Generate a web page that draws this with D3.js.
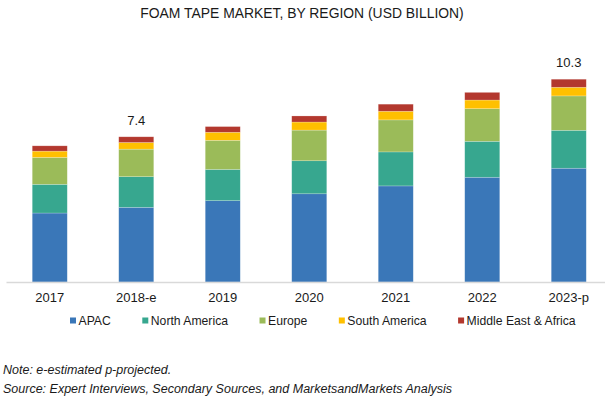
<!DOCTYPE html>
<html>
<head>
<meta charset="utf-8">
<script src="https://cdn.jsdelivr.net/npm/d3@7"></script>
<style>
  body { margin: 0; background: #fff; }
  svg { display: block; font-family: "Liberation Sans", Arial, sans-serif; }
</style>
</head>
<body>
<svg id="chart" width="611" height="399"></svg>
<script>
var years = ["2017", "2018-e", "2019", "2020", "2021", "2022", "2023-p"];
var regions = ["APAC", "North America", "Europe", "South America", "Middle East & Africa"];
var regionColors = ["#3a77b8", "#37a78f", "#9bbb59", "#ffc000", "#b3382e"];

// values in USD billion
var apac = [3.51, 3.80, 4.14, 4.49, 4.89, 5.33, 5.79];
var northAmerica = [1.46, 1.56, 1.59, 1.68, 1.73, 1.83, 1.93];
var europe = [1.37, 1.40, 1.48, 1.56, 1.63, 1.66, 1.75];
var southAmerica = [0.32, 0.34, 0.41, 0.41, 0.44, 0.44, 0.44];
var mea = [0.27, 0.29, 0.29, 0.31, 0.36, 0.39, 0.41];
var totalLabels = ["", "7.4", "", "", "", "", "10.3"];

var svg = d3.select("#chart");
var width = 611, height = 399;

// build table for the stack
var rows = years.map(function (y, i) {
    return {
        year: y,
        "APAC": apac[i],
        "North America": northAmerica[i],
        "Europe": europe[i],
        "South America": southAmerica[i],
        "Middle East & Africa": mea[i],
        label: totalLabels[i]
    };
});

var series = d3.stack().keys(regions)(rows);

var xScale = d3.scaleBand().domain(years).range([6.5, 612])
    .paddingInner(0.595).paddingOuter(0.2975);
var yScale = d3.scaleLinear().domain([0, 12]).range([282, 282 - 12 * 19.65]);
var color = d3.scaleOrdinal().domain(regions).range(regionColors);

// title
svg.append("text")
    .attr("x", 302)
    .attr("y", 17.5)
    .attr("text-anchor", "middle")
    .style("font-size", "13.9px")
    .style("fill", "#1a1a1a")
    .text("FOAM TAPE MARKET, BY REGION (USD BILLION)");

// bars
svg.append("g").selectAll("g")
    .data(series)
    .enter()
    .append("g")
    .attr("fill", function (d) { return color(d.key); })
    .selectAll("rect")
    .data(function (d) { return d; })
    .enter()
    .append("rect")
    .attr("x", function (d) { return xScale(d.data.year); })
    .attr("y", function (d) { return yScale(d[1]); })
    .attr("width", xScale.bandwidth())
    .attr("height", function (d) { return yScale(d[0]) - yScale(d[1]); })
    .attr("stroke", "#ffffff")
    .attr("stroke-opacity", 0.35)
    .attr("stroke-width", 0.6);

// baseline axis
var xAxis = d3.axisBottom(xScale).tickSize(0).tickPadding(11);
var axisG = svg.append("g")
    .attr("transform", "translate(0," + yScale(0) + ")")
    .call(xAxis);
axisG.select(".domain")
    .attr("d", "M6.5,0.5H605")
    .attr("stroke", "#d9d9d9")
    .attr("stroke-width", 1.3);
axisG.selectAll("text")
    .style("font-size", "13px")
    .style("font-family", "Liberation Sans, Arial, sans-serif")
    .attr("fill", "#1a1a1a");

// total labels
svg.append("g").selectAll("text")
    .data(rows)
    .enter()
    .append("text")
    .attr("x", function (d) { return xScale(d.year) + xScale.bandwidth() / 2; })
    .attr("y", function (d) {
        var t = d3.sum(regions, function (k) { return d[k]; });
        return yScale(t) - 12;
    })
    .attr("text-anchor", "middle")
    .style("font-size", "13px")
    .style("fill", "#1a1a1a")
    .text(function (d) { return d.label; });

// legend
var legend = svg.append("g").attr("transform", "translate(70,0)");
var lx = 0;
regions.forEach(function (r) {
    var item = legend.append("g").attr("transform", "translate(" + lx + ",0)");
    item.append("rect")
        .attr("x", 0)
        .attr("y", 317.5)
        .attr("width", 6)
        .attr("height", 6)
        .attr("fill", color(r));
    var t = item.append("text")
        .attr("x", 8.5)
        .attr("y", 325)
        .style("font-size", "12.2px")
        .style("fill", "#1a1a1a")
        .text(r);
    lx += t.node().getComputedTextLength() + 40;
});

// notes
svg.append("text")
    .attr("x", 3)
    .attr("y", 373.5)
    .style("font-size", "12.5px")
    .style("font-style", "italic")
    .style("fill", "#1a1a1a")
    .text("Note: e-estimated p-projected.");

svg.append("text")
    .attr("x", 3)
    .attr("y", 392.5)
    .style("font-size", "12.5px")
    .style("font-style", "italic")
    .style("fill", "#1a1a1a")
    .text("Source: Expert Interviews, Secondary Sources, and MarketsandMarkets Analysis");
</script>
</body>
</html>
